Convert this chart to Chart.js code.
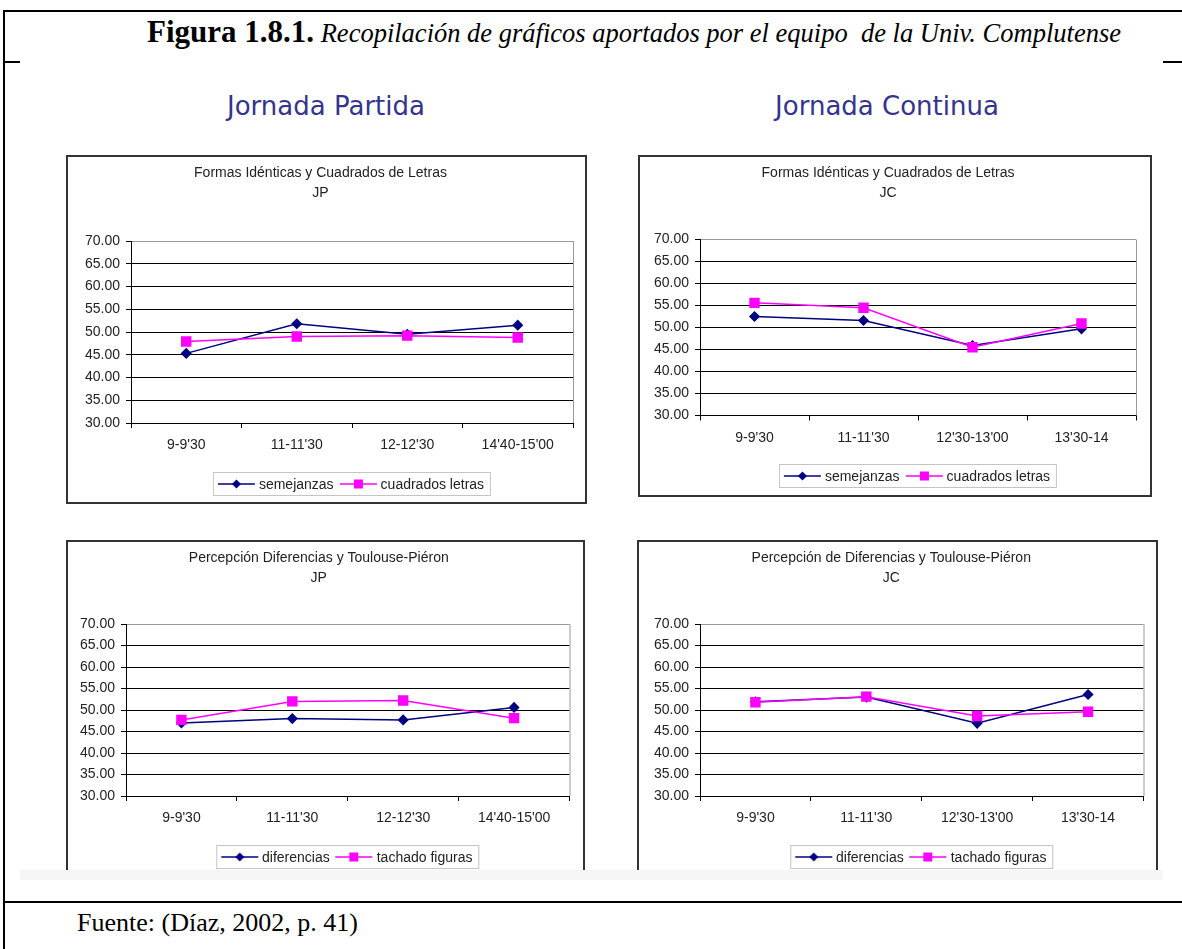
<!DOCTYPE html>
<html>
<head>
<meta charset="utf-8">
<script src="https://cdn.jsdelivr.net/npm/chart.js@4.4.0/dist/chart.umd.min.js"></script>
<style>
  body { margin: 0; width: 1182px; height: 949px; background: #fff; position: relative; overflow: hidden; }
  .rule { position: absolute; background: #000; }
  .caption { position: absolute; left: 147px; top: 14px; font-family: "Liberation Serif", "Times New Roman", serif; white-space: pre; color: #000; line-height: 36px; }
  .caption b { font-size: 31px; }
  .caption i { font-size: 26.5px; }
  .source { position: absolute; left: 77px; top: 908px; font-family: "Liberation Serif", "Times New Roman", serif; font-size: 26px; }
  .heading { position: absolute; top: 91px; font-family: "DejaVu Sans", sans-serif; font-size: 26px; color: #34348c; transform: translateX(-50%); white-space: nowrap; }
  .box { position: absolute; box-sizing: border-box; border: 2px solid #333; background: #fff; overflow: hidden; }
  .box.open { border-bottom: none; }
  .box canvas { position: absolute; left: 0; top: 0; }
  .legend { position: absolute; transform: translateX(-50%); display: flex; align-items: center; border: 1px solid #c4c4c4; padding: 3px 6px 3px 4px; white-space: nowrap;
            font-family: "Liberation Sans", Arial, sans-serif; font-size: 14px; color: #222; line-height: 16px; }
  .legend span.item { display: flex; align-items: center; margin-right: 6px; }
  .legend span.item:last-child { margin-right: 0; }
  .legend canvas { position: static; margin-right: 4px; }
  .fade { position: absolute; left: 20px; top: 870px; width: 1143px; height: 10px; background: #f6f6f6; }
</style>
</head>
<body>
<div class="rule" style="left:3px;top:10px;width:1179px;height:2px"></div>
<div class="rule" style="left:3px;top:10px;width:2px;height:939px"></div>
<div class="rule" style="left:3px;top:61px;width:17px;height:2px"></div>
<div class="rule" style="left:1163px;top:61px;width:19px;height:2px"></div>
<div class="fade"></div>
<div class="rule" style="left:3px;top:901px;width:1179px;height:2px"></div>
<div class="caption"><b>Figura 1.8.1.</b><i> Recopilación de gráficos aportados por el equipo  de la Univ. Complutense</i></div>
<div class="source">Fuente: (Díaz, 2002, p. 41)</div>
<div class="heading" style="left:326px">Jornada Partida</div>
<div class="heading" style="left:887px">Jornada Continua</div>

<script>
// franjas horarias
const horasJP = ["9-9'30", "11-11'30", "12-12'30", "14'40-15'00"];
const horasJC = ["9-9'30", "11-11'30", "12'30-13'00", "13'30-14"];

// Formas Idénticas y Cuadrados de Letras
const semejanzasJP = [45.3, 51.8, 49.5, 51.5];
const cuadradosJP  = [47.9, 49.0, 49.2, 48.8];
const semejanzasJC = [52.5, 51.6, 45.9, 49.7];
const cuadradosJC  = [55.6, 54.5, 45.5, 50.9];

// Percepción de Diferencias y Toulouse-Piéron
const diferenciasJP = [47.0, 48.0, 47.7, 50.6];
const tachadoJP     = [47.7, 52.0, 52.2, 48.1];
const diferenciasJC = [51.9, 53.0, 46.9, 53.6];
const tachadoJC     = [51.8, 53.1, 48.6, 49.6];

const yMin = 30, yMax = 70, yStep = 5;

const NAVY = '#000080';
const PINK = '#ff00ff';

Chart.defaults.font.family = "'Liberation Sans', Arial, sans-serif";
Chart.defaults.font.size = 14;
Chart.defaults.color = '#222';

// grey frame on the right side of the plot area, like Excel
const plotFrame = {
    id: 'plotFrame',
    afterDatasetsDraw(chart) {
        const a = chart.chartArea;
        const ctx = chart.ctx;
        ctx.save();
        ctx.strokeStyle = '#9a9a9a';
        ctx.lineWidth = 1;
        ctx.beginPath();
        ctx.moveTo(a.right + 0.5, a.top);
        ctx.lineTo(a.right + 0.5, a.bottom);
        ctx.stroke();
        ctx.restore();
    }
};

function legendSymbol(ds) {
    const c = document.createElement('canvas');
    c.width = 37; c.height = 14;
    const g = c.getContext('2d');
    g.strokeStyle = ds.borderColor;
    g.fillStyle = ds.backgroundColor;
    g.lineWidth = 1.5;
    g.beginPath(); g.moveTo(0, 7); g.lineTo(37, 7); g.stroke();
    g.beginPath();
    if (ds.pointStyle === 'rect') {
        g.rect(18.5 - 4.5, 7 - 4.5, 9, 9);
    } else {
        g.moveTo(18.5, 7 - 4.5); g.lineTo(23, 7); g.lineTo(18.5, 11.5); g.lineTo(14, 7); g.closePath();
    }
    g.fill();
    return c;
}

function makeChart(cfg) {
    const [bl, bt, br, bb] = cfg.box;
    const box = document.createElement('div');
    box.className = 'box' + (cfg.open ? ' open' : '');
    box.style.left = bl + 'px';
    box.style.top = bt + 'px';
    box.style.width = (br - bl) + 'px';
    box.style.height = (bb - bt) + 'px';
    document.body.appendChild(box);

    const ox = bl + 2, oy = bt + 2;
    const cw = br - bl - 4, ch = bb - bt - (cfg.open ? 2 : 4);
    const canvas = document.createElement('canvas');
    canvas.width = cw; canvas.height = ch;
    box.appendChild(canvas);

    const pl = cfg.plot[0] - ox, pt = cfg.plot[1] - oy, pr = cfg.plot[2] - ox, pb = cfg.plot[3] - oy;
    const titleTop = cfg.titleY - oy - 10;

    const datasets = [
        { label: cfg.names[0], data: cfg.series[0], borderColor: NAVY, backgroundColor: NAVY,
          pointStyle: 'rectRot', pointRadius: 4.5, pointHoverRadius: 4.5, borderWidth: 1.5, order: 1 },
        { label: cfg.names[1], data: cfg.series[1], borderColor: PINK, backgroundColor: PINK,
          pointStyle: 'rect', pointRadius: 6.3, pointHoverRadius: 6.3, borderWidth: 1.5, order: 0 }
    ];

    new Chart(canvas, {
        type: 'line',
        data: { labels: cfg.labels, datasets: datasets },
        options: {
            responsive: false,
            animation: false,
            events: [],
            layout: { padding: { left: 0, top: 0, bottom: 0, right: cw - pr } },
            plugins: {
                legend: { display: false },
                tooltip: { enabled: false },
                title: {
                    display: true,
                    text: cfg.title,
                    color: '#222',
                    font: { size: 14, weight: 'normal', lineHeight: 20 / 14 },
                    padding: { top: titleTop, bottom: pt - titleTop - 40 }
                }
            },
            scales: {
                x: {
                    offset: true,
                    grid: { offset: true, drawOnChartArea: false, drawTicks: true, tickLength: 5, color: '#000', lineWidth: 1 },
                    border: { display: true, color: '#000', width: 1 },
                    ticks: { padding: 9, color: '#222', maxRotation: 0, autoSkip: false },
                    afterFit: s => { s.height = ch - pb; }
                },
                y: {
                    min: yMin, max: yMax,
                    grid: {
                        color: c => (c.tick && c.tick.value === yMax) ? '#9a9a9a' : '#000',
                        tickColor: '#000', lineWidth: 1, tickLength: 5
                    },
                    border: { display: true, color: '#000', width: 1 },
                    ticks: { stepSize: yStep, padding: 6, color: '#222', callback: v => v.toFixed(2) },
                    afterFit: s => { s.width = pl; }
                }
            }
        },
        plugins: [plotFrame]
    });

    const legend = document.createElement('div');
    legend.className = 'legend';
    legend.style.left = ((cfg.plot[0] + cfg.plot[2]) / 2 - ox) + 'px';
    legend.style.top = (cfg.legendTop - oy) + 'px';
    datasets.forEach(ds => {
        const item = document.createElement('span');
        item.className = 'item';
        item.appendChild(legendSymbol(ds));
        item.appendChild(document.createTextNode(ds.label));
        legend.appendChild(item);
    });
    box.appendChild(legend);
}

makeChart({
    box: [66, 155, 587, 504], plot: [131, 241, 573, 423], titleY: 173.5, legendTop: 472,
    title: ['Formas Idénticas y Cuadrados de Letras', 'JP'],
    labels: horasJP, names: ['semejanzas', 'cuadrados letras'], series: [semejanzasJP, cuadradosJP]
});
makeChart({
    box: [638, 155, 1152, 497], plot: [700, 239.5, 1136, 415.5], titleY: 173, legendTop: 464,
    title: ['Formas Idénticas y Cuadrados de Letras', 'JC'],
    labels: horasJC, names: ['semejanzas', 'cuadrados letras'], series: [semejanzasJC, cuadradosJC]
});
makeChart({
    box: [66, 540, 585, 870], open: true, plot: [126, 624, 569.5, 796], titleY: 558.5, legendTop: 845,
    title: ['Percepción Diferencias y Toulouse-Piéron', 'JP'],
    labels: horasJP, names: ['diferencias', 'tachado figuras'], series: [diferenciasJP, tachadoJP]
});
makeChart({
    box: [637, 540, 1158, 870], open: true, plot: [700, 624, 1143.5, 796], titleY: 558.5, legendTop: 845,
    title: ['Percepción de Diferencias y Toulouse-Piéron', 'JC'],
    labels: horasJC, names: ['diferencias', 'tachado figuras'], series: [diferenciasJC, tachadoJC]
});
</script>
</body>
</html>
